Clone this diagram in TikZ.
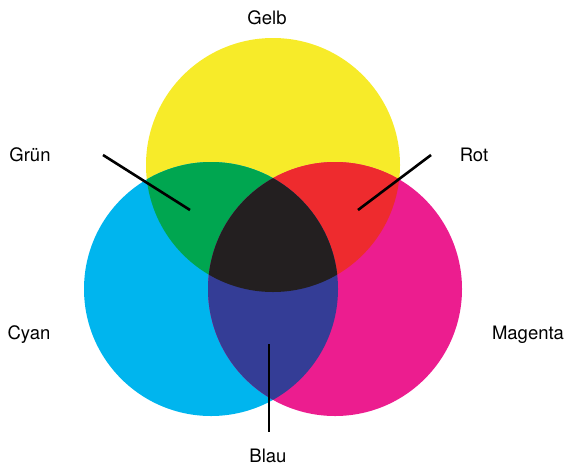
\documentclass[tikz,border=0pt]{standalone}
\usepackage{fontspec}
\setmainfont{TeX Gyre Heros}
\definecolor{cyel}{HTML}{F7EB29}
\definecolor{ccyan}{HTML}{00B5EE}
\definecolor{cmag}{HTML}{EC1D8F}
\definecolor{cgreen}{HTML}{00A650}
\definecolor{cred}{HTML}{EE2B2E}
\definecolor{cblue}{HTML}{343D96}
\definecolor{cblack}{HTML}{231F20}
\tikzset{lbl/.style={font=\fontsize{18.5}{20}\selectfont, text=black, inner sep=0pt},
  pointer/.style={line width=2.6pt, black}}
\begin{document}
\begin{tikzpicture}[x=1pt,y=-1pt]
\useasboundingbox (0,0) rectangle (569,466);
\def\R{127}
\coordinate (Y) at (273,165);
\coordinate (C) at (211,289);
\coordinate (M) at (335,289);
\fill[cyel] (Y) circle (\R);
\fill[ccyan] (C) circle (\R);
\fill[cmag] (M) circle (\R);
\begin{scope}
  \clip (Y) circle (\R);
  \fill[cgreen] (C) circle (\R);
  \fill[cred] (M) circle (\R);
\end{scope}
\begin{scope}
  \clip (C) circle (\R);
  \fill[cblue] (M) circle (\R);
  \clip (M) circle (\R);
  \fill[cblack] (Y) circle (\R);
\end{scope}
\node[lbl] (gelb) at (267,18) {Gelb};
\node[lbl] (gruen) at (30,155) {Grün};
\node[lbl] (rot) at (474,155) {Rot};
\node[lbl] (cyan) at (29,335) {Cyan};
\node[lbl] (magenta) at (528,335) {Magenta};
\node[lbl] (blau) at (268,456) {Blau};
\coordinate (g1) at (103,155);
\coordinate (g2) at (190,210);
\coordinate (r1) at (431,155);
\coordinate (r2) at (358,210);
\coordinate (b1) at (269,344);
\coordinate (b2) at (269,432);
\draw[pointer] (g1) -- (g2);
\draw[pointer] (r1) -- (r2);
\draw[pointer] (b1) -- (b2);
\end{tikzpicture}
\end{document}
